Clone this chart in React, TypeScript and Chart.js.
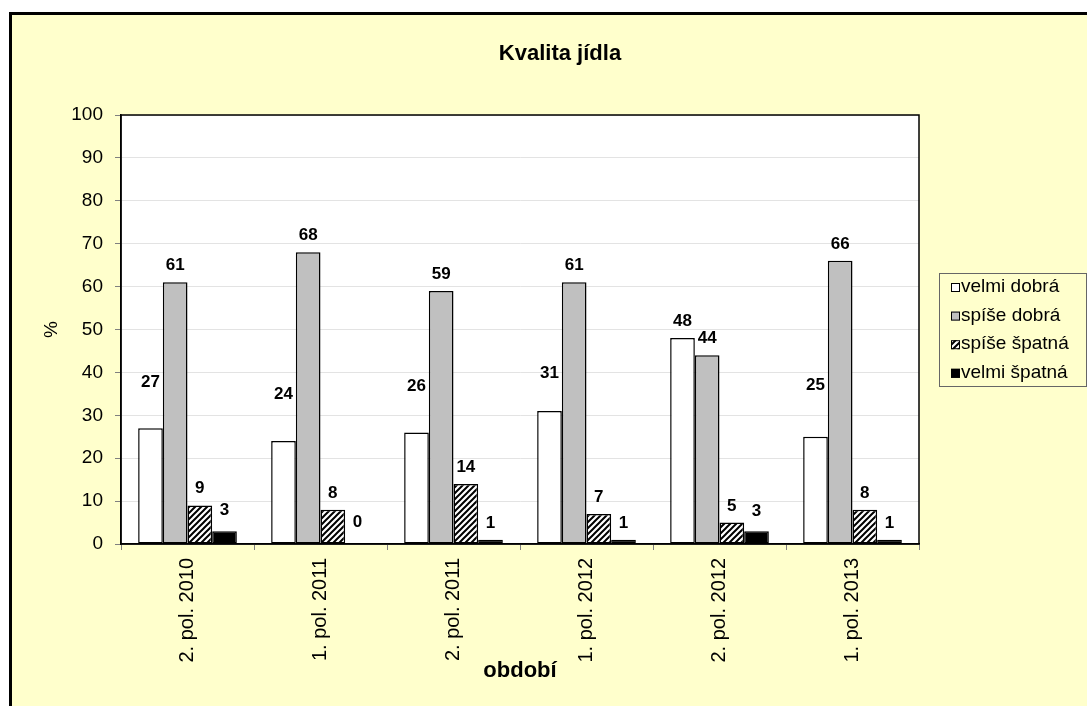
import React, { useEffect, useRef } from 'react';
import { Chart, registerables } from 'chart.js';

Chart.register(...registerables);

const categories = ['2. pol. 2010', '1. pol. 2011', '2. pol. 2011', '1. pol. 2012', '2. pol. 2012', '1. pol. 2013'];
const seriesNames = ['velmi dobrá', 'spíše dobrá', 'spíše špatná', 'velmi špatná'];
const velmiDobra = [27, 24, 26, 31, 48, 25];
const spiseDobra = [61, 68, 59, 61, 44, 66];
const spiseSpatna = [9, 8, 14, 7, 5, 8];
const velmiSpatna = [3, 0, 1, 1, 3, 1];
const yMin = 0;
const yMax = 100;
const yStep = 10;
const chartTitle = 'Kvalita jídla';
const xTitle = 'období';
const yTitle = '%';

const FONT = "'Liberation Sans', Arial, sans-serif";

// extra lift (px) of manually moved data labels, per series / category
const labelLift: number[][] = [
  [29, 30, 29, 21, 0, 35],
  [0, 0, 0, 0, 0, 0],
  [0, 0, 0, 0, 0, 0],
  [4, 5, 0, 0, 3, 0],
];

function makeHatch(): CanvasPattern | string {
  const c = document.createElement('canvas');
  c.width = 6;
  c.height = 6;
  const g = c.getContext('2d');
  if (!g) return '#888';
  g.fillStyle = '#fff';
  g.fillRect(0, 0, 6, 6);
  g.strokeStyle = '#000';
  g.lineWidth = 2;
  g.beginPath();
  g.moveTo(-4, 4); g.lineTo(4, -4);
  g.moveTo(-1, 7); g.lineTo(7, -1);
  g.moveTo(2, 10); g.lineTo(10, 2);
  g.stroke();
  return g.createPattern(c, 'repeat') || '#888';
}

export default function App() {
  const ref = useRef<HTMLCanvasElement | null>(null);

  useEffect(() => {
    if (!ref.current) return;
    const hatch = makeHatch();
    const fills: any[] = ['#FFFFFF', '#C0C0C0', hatch, '#000000'];
    const seriesData = [velmiDobra, spiseDobra, spiseSpatna, velmiSpatna];

    const plotBg = {
      id: 'plotBg',
      beforeDraw(chart: any) {
        const { ctx, chartArea: a } = chart;
        ctx.save();
        ctx.fillStyle = '#FFFFFF';
        ctx.fillRect(a.left, a.top, a.right - a.left, a.bottom - a.top);
        ctx.restore();
      },
    };

    const frameAndLabels = {
      id: 'frameAndLabels',
      afterDatasetsDraw(chart: any) {
        const { ctx, chartArea: a } = chart;
        ctx.save();
        ctx.strokeStyle = '#000';
        ctx.lineWidth = 1.5;
        ctx.strokeRect(a.left, a.top, a.right - a.left, a.bottom - a.top);
        ctx.fillStyle = '#000';
        ctx.font = `bold 17px ${FONT}`;
        ctx.textAlign = 'center';
        ctx.textBaseline = 'alphabetic';
        chart.data.datasets.forEach((ds: any, di: number) => {
          const meta = chart.getDatasetMeta(di);
          meta.data.forEach((bar: any, i: number) => {
            const lift = (labelLift[di] && labelLift[di][i]) || 0;
            ctx.fillText(String(ds.data[i]), bar.x, bar.y - 12 - lift);
          });
        });
        ctx.restore();
      },
      afterDraw(chart: any) {
        const { ctx } = chart;
        ctx.save();
        // title
        ctx.fillStyle = '#000';
        ctx.font = `bold 22px ${FONT}`;
        ctx.textAlign = 'center';
        ctx.textBaseline = 'alphabetic';
        ctx.fillText(chartTitle, 560, 60);
        // legend
        const lx = 939.5, ly = 273.5, lw = 147, lh = 113;
        ctx.fillStyle = '#FFFFCC';
        ctx.fillRect(lx, ly, lw, lh);
        ctx.strokeStyle = '#666';
        ctx.lineWidth = 1;
        ctx.strokeRect(lx, ly, lw, lh);
        ctx.font = `19px ${FONT}`;
        ctx.textAlign = 'left';
        chart.data.datasets.forEach((ds: any, di: number) => {
          const cy = 287 + di * 28.6;
          ctx.fillStyle = ds.backgroundColor;
          ctx.fillRect(951, cy - 4, 9, 9);
          ctx.strokeStyle = '#000';
          ctx.lineWidth = 1;
          ctx.strokeRect(951.5, cy - 3.5, 8, 8);
          ctx.fillStyle = '#000';
          ctx.fillText(ds.label, 961, cy + 5);
        });
        ctx.restore();
      },
    };

    const chart = new Chart(ref.current, {
      type: 'bar',
      data: {
        labels: categories,
        datasets: seriesNames.map((name, i) => ({
          label: name,
          data: seriesData[i],
          backgroundColor: fills[i],
          borderColor: '#000',
          borderWidth: 1.5,
          borderSkipped: false,
          categoryPercentage: 0.742,
          barPercentage: 1.0,
        })),
      },
      options: {
        responsive: false,
        maintainAspectRatio: false,
        animation: false,
        devicePixelRatio: 1,
        layout: { padding: { left: 40, right: 168, top: 115, bottom: 22 } },
        plugins: {
          legend: { display: false },
          title: { display: false },
          tooltip: { enabled: false },
        },
        scales: {
          x: {
            afterFit(scale: any) { scale.height = 140; },
            grid: {
              offset: true,
              drawOnChartArea: false,
              drawTicks: true,
              tickLength: 6,
              tickColor: '#808080',
            },
            border: { display: true, color: '#000', width: 1.5 },
            ticks: {
              autoSkip: false,
              minRotation: 90,
              maxRotation: 90,
              padding: 8,
              color: '#000',
              font: { family: FONT, size: 20 },
            },
            title: {
              display: true,
              text: xTitle,
              color: '#000',
              padding: 0,
              font: { family: FONT, size: 22, weight: 'bold' },
            },
          },
          y: {
            min: yMin,
            max: yMax,
            afterFit(scale: any) { scale.width = 81; },
            grid: {
              color: '#E3E3E3',
              lineWidth: 1,
              tickLength: 6,
              tickColor: '#808080',
            },
            border: { display: true, color: '#000', width: 1.5 },
            ticks: {
              stepSize: yStep,
              padding: 12,
              color: '#000',
              font: { family: FONT, size: 19 },
            },
            title: {
              display: true,
              text: yTitle,
              color: '#000',
              padding: 0,
              font: { family: FONT, size: 19 },
            },
          },
        },
      },
      plugins: [plotBg, frameAndLabels],
    } as any);

    return () => chart.destroy();
  }, []);

  return (
    <>
      <div
        style={{
          position: 'fixed',
          left: 9,
          top: 12,
          width: 1078,
          height: 694,
          background: '#FFFFCC',
          borderTop: '3px solid #000',
          borderLeft: '3px solid #000',
          boxSizing: 'border-box',
        }}
      />
      <canvas
        ref={ref}
        width={1087}
        height={706}
        style={{ position: 'fixed', left: 0, top: 0, width: 1087, height: 706 }}
      />
    </>
  );
}
